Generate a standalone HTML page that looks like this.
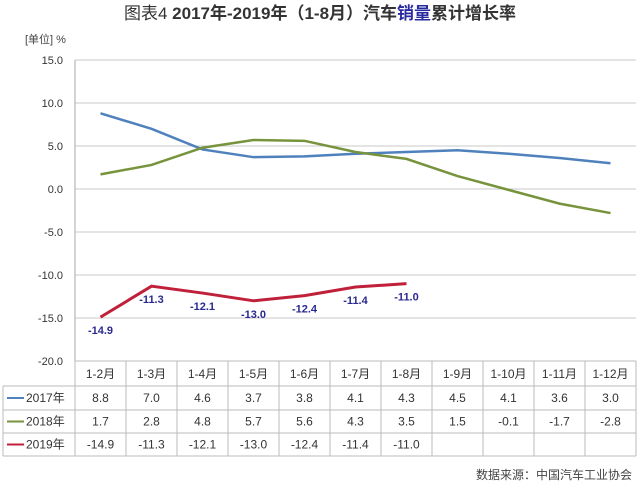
<!DOCTYPE html>
<html><head><meta charset="utf-8"><style>
body{margin:0;background:#fff;width:640px;height:487px;overflow:hidden;font-family:"Liberation Sans","Noto Sans CJK SC",sans-serif}
</style></head><body>
<svg id="c" width="640" height="487" font-family="Liberation Sans, Noto Sans CJK SC, sans-serif">
<text x="320" y="19" text-anchor="middle" font-size="17" font-weight="bold" fill="#333"><tspan font-weight="normal">图表4</tspan>  2017年-2019年（1-8月）汽车<tspan fill="#2a2aa0">销量</tspan>累计增长率</text>
<text x="25" y="43" font-size="11" fill="#444">[单位] %</text>
<g id="grid"></g><g id="tbl"></g><g id="series"></g>
<text x="632" y="479" text-anchor="end" font-size="12" fill="#444">数据来源：中国汽车工业协会</text>
</svg>
<script>
const categories=["1-2月","1-3月","1-4月","1-5月","1-6月","1-7月","1-8月","1-9月","1-10月","1-11月","1-12月"];
const s2017=[8.8,7.0,4.6,3.7,3.8,4.1,4.3,4.5,4.1,3.6,3.0];
const s2018=[1.7,2.8,4.8,5.7,5.6,4.3,3.5,1.5,-0.1,-1.7,-2.8];
const s2019=[-14.9,-11.3,-12.1,-13.0,-12.4,-11.4,-11.0];
const yTicks=[15,10,5,0,-5,-10,-15,-20];
const seriesNames=["2017年","2018年","2019年"];
const colors=["#4f81bd","#77933c","#c0203a"];
const NS="http://www.w3.org/2000/svg";
const L=75,R=636,T=60,B=361,cw=(R-L)/categories.length;
const y=v=>T+(15-v)*(B-T)/35;
const x=i=>L+cw*(i+0.5);
function el(p,t,a,txt){const e=document.createElementNS(NS,t);for(const k in a)e.setAttribute(k,a[k]);if(txt!==undefined)e.textContent=txt;p.appendChild(e);return e;}
const g=document.getElementById('grid');
yTicks.forEach(v=>{
 const l=el(g,'line',{x1:L,x2:R,y1:y(v),y2:y(v),stroke:'#c8c8c8','stroke-width':1});
 
 
 const t=el(g,'text',{x:L-12,y:y(v)+4,'text-anchor':'end','font-size':11,fill:'#333'},v.toFixed(1));
 
 
});
el(g,'line',{x1:L,x2:L,y1:T,y2:B,stroke:'#aaa'});
const tb=document.getElementById('tbl');
const rowsY=[361,386,410,433,456];
rowsY.forEach((ry,i)=>{el(tb,'line',{x1:i==0?L:3,x2:R,y1:ry,y2:ry,stroke:'#bbb'});});
el(tb,'line',{x1:3,x2:3,y1:386,y2:456,stroke:'#bbb'});
for(let i=0;i<=categories.length;i++)el(tb,'line',{x1:L+cw*i,x2:L+cw*i,y1:361,y2:456,stroke:'#bbb'});
categories.forEach((c,i)=>{
 const t=el(tb,'text',{x:x(i),y:378,'text-anchor':'middle','font-size':12,fill:'#333'},c);
 
 
});
[s2017,s2018,s2019].forEach((s,r)=>{
 const cy=(rowsY[r+1]+rowsY[r+2])/2+4;
 el(tb,'line',{x1:7,x2:24,y1:cy-4,y2:cy-4,stroke:colors[r],'stroke-width':2});
 const n=el(tb,'text',{x:26,y:cy,'font-size':12,fill:'#333'},seriesNames[r]);
 
 
 s.forEach((v,i)=>{
  const t=el(tb,'text',{x:x(i),y:cy,'text-anchor':'middle','font-size':12,fill:'#333'},v.toFixed(1));
  
  
 });
});
const sg=document.getElementById('series');
[s2017,s2018,s2019].forEach((s,r)=>{
 const p=el(sg,'polyline',{points:s.map((v,i)=>x(i)+','+y(v)).join(' '),fill:'none',stroke:colors[r],'stroke-width':r==2?3:2.5});
 
 
});
s2019.forEach((v,i)=>{
 const t=el(sg,'text',{x:x(i),y:y(v)+17,'text-anchor':'middle','font-size':11,'font-weight':'bold',fill:'#2a2a90'},v.toFixed(1));
 
 
});
</script>
</body></html>
